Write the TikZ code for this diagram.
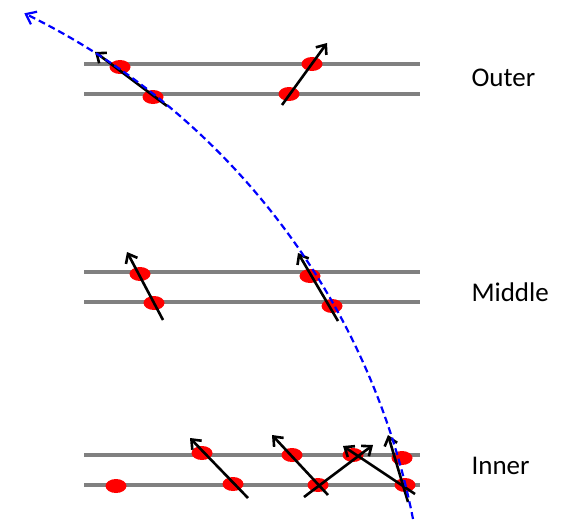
\documentclass[tikz,border=0pt]{standalone}
\usepackage{fontspec}
\newfontfamily\labelfont{Carlito}
\usetikzlibrary{arrows.meta,shapes.geometric}

\begin{document}
\begin{tikzpicture}[x=1pt,y=-1pt]
\tikzset{
  layer/.style={line width=4pt,color=gray},
  hit/.style={ellipse,fill=red,minimum width=21pt,minimum height=14pt,inner sep=0pt},
  segment/.style={-{Straight Barb[length=8pt,width=13pt]},line width=2.6pt},
  track/.style={-{Straight Barb[length=9pt,width=14pt]},blue,line width=2.2pt,dash pattern=on 7pt off 4pt},
  layername/.style={anchor=west,font=\labelfont\fontsize{27}{32}\selectfont}
}
\useasboundingbox (0,0) rectangle (575,519);
% layers
\coordinate (l_O1w) at (84,64);  \coordinate (l_O1e) at (420,64);
\coordinate (l_O2w) at (84,94);  \coordinate (l_O2e) at (420,94);
\coordinate (l_M1w) at (84,272); \coordinate (l_M1e) at (420,272);
\coordinate (l_M2w) at (84,302); \coordinate (l_M2e) at (420,302);
\coordinate (l_I1w) at (84,455); \coordinate (l_I1e) at (420,455);
\coordinate (l_I2w) at (84,485); \coordinate (l_I2e) at (420,485);
\draw[layer] (l_O1w) -- (l_O1e);
\draw[layer] (l_O2w) -- (l_O2e);
\draw[layer] (l_M1w) -- (l_M1e);
\draw[layer] (l_M2w) -- (l_M2e);
\draw[layer] (l_I1w) -- (l_I1e);
\draw[layer] (l_I2w) -- (l_I2e);
% hits
\node[hit] (n_O1) at (120,67) {};
\node[hit] (n_O2) at (153,97) {};
\node[hit] (n_O3) at (312,64) {};
\node[hit] (n_O4) at (289,94) {};
\node[hit] (n_M1) at (140,274) {};
\node[hit] (n_M2) at (154,303) {};
\node[hit] (n_M3) at (310,276) {};
\node[hit] (n_M4) at (332,306) {};
\node[hit] (n_I1) at (116,486) {};
\node[hit] (n_I2) at (202,453) {};
\node[hit] (n_I3) at (233,484) {};
\node[hit] (n_I4) at (292,455) {};
\node[hit] (n_I5) at (318,485) {};
\node[hit] (n_I6) at (353,455) {};
\node[hit] (n_I7) at (402,458) {};
\node[hit] (n_I8) at (405,485) {};
% segments
\coordinate (a_O1s) at (167,106); \coordinate (a_O1e) at (95,52);
\coordinate (a_O2s) at (282,105); \coordinate (a_O2e) at (327,43);
\coordinate (a_M1s) at (163,320); \coordinate (a_M1e) at (127,252);
\coordinate (a_M2s) at (338,321); \coordinate (a_M2e) at (298,253);
\coordinate (a_I1s) at (248,498); \coordinate (a_I1e) at (190,438);
\coordinate (a_I2s) at (328,495); \coordinate (a_I2e) at (272,435);
\coordinate (a_I3s) at (304,497); \coordinate (a_I3e) at (373,445);
\coordinate (a_I4s) at (415,494); \coordinate (a_I4e) at (343,446);
\coordinate (a_I5s) at (408,502); \coordinate (a_I5e) at (388,435);
\draw[segment] (a_O1s) -- (a_O1e);
\draw[segment] (a_O2s) -- (a_O2e);
\draw[segment] (a_M1s) -- (a_M1e);
\draw[segment] (a_M2s) -- (a_M2e);
\draw[segment] (a_I1s) -- (a_I1e);
\draw[segment] (a_I2s) -- (a_I2e);
\draw[segment] (a_I3s) -- (a_I3e);
\draw[segment] (a_I4s) -- (a_I4e);
\draw[segment] (a_I5s) -- (a_I5e);
% track
\coordinate (t_start) at (413,519);
\draw[track] (t_start) arc[start angle=-11.1,end angle=-64,radius=716];
% labels
\node[layername] (n_outer) at (468,78) {Outer};
\node[layername] (n_middle) at (468,292) {Middle};
\node[layername] (n_inner) at (468,466) {Inner};
\end{tikzpicture}
\end{document}
